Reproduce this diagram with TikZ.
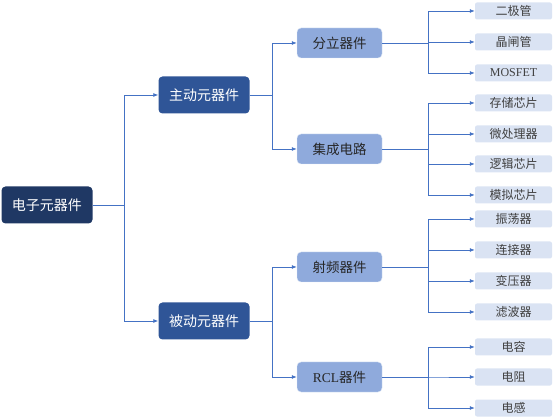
\documentclass[tikz,border=0pt]{standalone}
\usepackage{fontspec}
\setmainfont{Liberation Serif}
\newfontfamily\cjk{Noto Sans CJK SC}
\usepackage{tikz}
\usetikzlibrary{arrows.meta}

\definecolor{rootblue}{HTML}{1F3864}
\definecolor{midblue}{HTML}{2F5597}
\definecolor{subblue}{HTML}{8FAADC}
\definecolor{leafblue}{HTML}{DAE3F3}
\definecolor{linkblue}{HTML}{4472C4}

\tikzset{
  rootbox/.style={fill=rootblue, rounded corners=4pt, minimum width=91pt, minimum height=37pt,
    inner sep=0pt, text=white, font=\cjk\fontsize{14}{16}\selectfont},
  groupbox/.style={rootbox, fill=midblue},
  kindbox/.style={fill=subblue, draw=white!70!subblue, rounded corners=4pt, minimum width=85pt,
    minimum height=30pt, inner sep=0pt, text=black!85, font=\cjk\fontsize{13.5}{15}\selectfont},
  leafbox/.style={fill=leafblue, rounded corners=2pt, minimum width=77pt, minimum height=17pt,
    inner sep=0pt, text=black!75, font=\cjk\fontsize{12}{14}\selectfont},
  link/.style={draw=linkblue, line width=0.8pt, -{Latex[length=5pt,width=4pt]}}
}

\begin{document}
\begin{tikzpicture}[x=1pt,y=-1pt]
    \useasboundingbox (0,0) rectangle (554,419);
    \node[rootbox] (root) at (47,205) {电子元器件};
    \node[groupbox] (active) at (204,95) {主动元器件};
    \node[groupbox] (passive) at (204,321) {被动元器件};
    \node[kindbox] (discrete) at (339.5,43) {分立器件};
    \node[kindbox] (ic) at (339.5,149) {集成电路};
    \node[kindbox] (rf) at (339.5,267) {射频器件};
    \node[kindbox] (rcl) at (339.5,377) {{\rmfamily RCL}器件};
    \foreach \n/\y/\t in {d1/11/二极管, d2/42/晶闸管, d3/73/{\rmfamily MOSFET},
        c1/103/存储芯片, c2/134/微处理器, c3/164/逻辑芯片, c4/195/模拟芯片,
        r1/219/振荡器, r2/250/连接器, r3/281/变压器, r4/312/滤波器,
        p1/347/电容, p2/377/电阻, p3/408/电感}
      \node[leafbox] (\n) at (513.5,\y) {\t};
    \foreach \g in {active,passive}
      \draw[link] (root.east) -- ++(32,0) |- (\g.west);
    \foreach \k in {discrete,ic}
      \draw[link] (active.east) -- ++(23,0) |- (\k.west);
    \foreach \k in {rf,rcl}
      \draw[link] (passive.east) -- ++(23,0) |- (\k.west);
    \foreach \n in {d1,d2,d3}
      \draw[link] (discrete.east) -- ++(46,0) |- (\n.west);
    \foreach \n in {c1,c2,c3,c4}
      \draw[link] (ic.east) -- ++(46,0) |- (\n.west);
    \foreach \n in {r1,r2,r3,r4}
      \draw[link] (rf.east) -- ++(46,0) |- (\n.west);
    \foreach \n in {p1,p2,p3}
      \draw[link] (rcl.east) -- ++(46,0) |- (\n.west);
\end{tikzpicture}
\end{document}
